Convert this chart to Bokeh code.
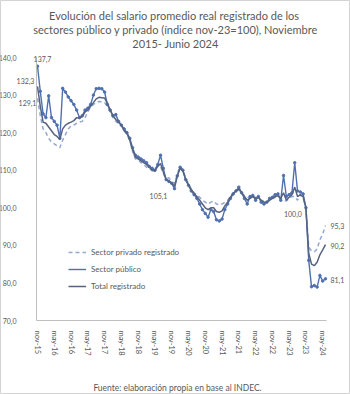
from bokeh.plotting import figure
from bokeh.models import (Range1d, FixedTicker, Label, Legend, LegendItem)
from bokeh.embed import file_html
from bokeh.resources import INLINE

# ---------------- data ----------------
tick_labels = ["nov-15", "may-16", "nov-16", "may-17", "nov-17", "may-18",
               "nov-18", "may-19", "nov-19", "may-20", "nov-20", "may-21",
               "nov-21", "may-22", "nov-22", "may-23", "nov-23", "may-24"]
y_ticks = [70, 80, 90, 100, 110, 120, 130, 140]
y_tick_labels = ["70,0", "80,0", "90,0", "100,0", "110,0", "120,0", "130,0", "140,0"]

# monthly index nov-15 ... jun-24 (nov-23 = 100)
publico = [137.7, 131.0, 125.0, 124.0, 129.8, 124.0, 123.0, 122.0, 118.5, 131.8,
           130.8, 129.5, 128.5, 127.5, 126.0, 124.0, 124.5, 126.0, 126.5, 127.5,
           130.0, 131.7, 131.8, 131.7, 130.8, 127.5, 126.0, 124.5, 124.8, 123.0,
           122.0, 121.0, 120.0, 118.5, 116.0, 114.0, 113.5, 113.0, 112.5, 112.0,
           111.0, 110.5, 110.0, 111.5, 114.0, 110.5, 107.5, 107.0, 106.5, 105.1,
           108.5, 110.8, 110.0, 107.5, 106.0, 104.5, 103.5, 102.5, 101.0, 99.5,
           98.5, 97.5, 99.5, 99.0, 96.8, 96.5, 97.0, 99.5, 101.0, 102.5,
           103.7, 104.5, 105.5, 104.0, 102.5, 101.0, 103.0, 103.3, 102.0, 103.0,
           101.5, 101.0, 101.5, 102.5, 102.8, 103.5, 103.7, 102.0, 108.6, 103.0,
           103.5, 104.0, 112.0, 104.5, 104.2, 103.7, 100.0, 86.0, 79.0, 79.3,
           78.9, 82.0, 80.5, 81.1]
total = [132.3, 127.0, 122.8, 122.5, 121.5, 120.5, 119.5, 119.0, 118.2, 121.0,
         122.0, 122.5, 122.8, 123.2, 124.0, 123.8, 124.3, 125.5, 126.0, 127.0,
         128.0, 129.0, 129.4, 129.3, 129.2, 127.8, 126.0, 124.5, 123.5, 122.8,
         122.0, 120.5, 119.8, 118.0, 115.5, 113.5, 113.0, 112.5, 112.0, 111.5,
         110.8, 110.0, 109.8, 111.0, 111.8, 109.5, 107.5, 107.2, 106.5, 105.8,
         108.5, 110.5, 109.8, 107.5, 106.0, 104.8, 103.8, 103.0, 102.0, 101.0,
         100.0, 99.5, 100.0, 100.0, 99.0, 98.8, 99.2, 100.5, 101.5, 102.8,
         103.8, 104.5, 105.0, 104.0, 103.0, 102.0, 102.5, 103.0, 102.5, 102.8,
         102.0, 101.5, 101.5, 102.0, 102.5, 103.0, 103.2, 102.5, 104.0, 102.0,
         102.8, 103.5, 105.5, 103.0, 103.5, 103.0, 100.0, 88.0, 85.0, 84.6,
         85.5, 87.5, 88.8, 90.2]
privado = [129.1, 124.5, 121.0, 120.0, 118.5, 117.5, 117.0, 116.5, 116.0, 118.0,
           119.5, 121.0, 121.8, 122.0, 122.5, 122.8, 123.0, 124.0, 125.5, 126.8,
           127.5, 128.0, 128.3, 128.2, 128.0, 127.0, 125.5, 124.0, 123.0, 122.4,
           122.0, 120.5, 119.5, 118.0, 115.0, 113.0, 112.8, 112.0, 111.5, 110.8,
           110.5, 109.8, 110.5, 111.2, 111.0, 109.0, 107.8, 108.0, 107.0, 106.5,
           109.0, 111.0, 110.2, 108.0, 106.5, 105.0, 104.0, 103.5, 102.8, 102.0,
           101.5, 101.0, 101.5, 101.8, 101.0, 100.8, 101.0, 101.5, 102.0, 103.0,
           104.0, 104.5, 104.8, 104.0, 103.2, 102.8, 102.5, 103.0, 102.8, 102.5,
           102.0, 101.8, 101.5, 102.0, 102.3, 102.8, 103.0, 102.5, 102.0, 101.8,
           102.5, 103.0, 103.0, 102.0, 103.5, 102.5, 100.0, 89.5, 88.5, 88.3,
           89.0, 91.5, 93.0, 95.3]

x = list(range(len(total)))

# ---------------- layout helpers (pixel -> data) ----------------
W, H = 350, 394
X0, SX = 37.0, 2.796      # pixel of month 0, pixels per month
Y0, SY = 320.0, 3.757     # pixel of value 70, pixels per unit


def dx(px):
    return (px - X0) / SX


def dy(py):
    return 70 + (Y0 - py) / SY


C_PRIV = "#93a8d0"
C_PUB = "#4f70b0"
C_TOT = "#56637f"
TXT = "#595959"
FONT = "Lato"
NUM_SIZE = "7px"

p = figure(width=W, height=H, output_backend="svg", toolbar_location=None,
           x_range=Range1d(dx(0), dx(W)), y_range=Range1d(dy(H), dy(0)),
           min_border=0)
p.outline_line_color = "#d4d4d4"
p.grid.grid_line_color = None
p.background_fill_color = "white"
p.border_fill_color = "white"

for ax in (p.xaxis[0], p.yaxis[0]):
    ax.axis_line_color = "#bfbfbf"
    ax.major_tick_line_color = None
    ax.minor_tick_line_color = None
    ax.major_label_text_color = TXT
    ax.major_label_text_font = FONT

p.yaxis.ticker = FixedTicker(ticks=y_ticks)
p.yaxis.major_label_overrides = {t: l for t, l in zip(y_ticks, y_tick_labels)}
p.yaxis.major_label_text_font_size = NUM_SIZE
p.yaxis.major_label_standoff = 14
p.yaxis.fixed_location = dx(36)
p.yaxis.bounds = (70, 140)

x_ticks = [i * 6 for i in range(len(tick_labels))]
p.xaxis.ticker = FixedTicker(ticks=x_ticks)
p.xaxis.major_label_overrides = {t: l for t, l in zip(x_ticks, tick_labels)}
p.xaxis.major_label_orientation = "vertical"
p.xaxis.major_label_text_font_size = "7.5px"
p.xaxis.major_label_standoff = 4
p.xaxis.fixed_location = 70
p.xaxis.bounds = (dx(36), dx(326))

r_priv = p.line(x, privado, line_color=C_PRIV, line_width=1.5, line_dash="4 3")
r_pub = p.line(x, publico, line_color=C_PUB, line_width=1.4)
r_pubm = p.scatter(x, publico, marker="circle", size=2.5, line_color=C_PUB,
                   fill_color=C_PUB)
r_tot = p.line(x, total, line_color=C_TOT, line_width=1.5)

legend = Legend(items=[
    LegendItem(label="Sector privado registrado", renderers=[r_priv]),
    LegendItem(label="Sector público", renderers=[r_pub]),
    LegendItem(label="Total registrado", renderers=[r_tot]),
], location=(68, H - 292))
legend.background_fill_alpha = 0
legend.border_line_color = None
legend.label_text_font = FONT
legend.label_text_font_size = "8px"
legend.label_text_color = TXT
legend.glyph_width = 18
legend.glyph_height = 12
legend.label_height = 12
legend.spacing = 5
legend.padding = 0
legend.margin = 0
p.add_layout(legend, "center")


# data labels
def fmt(v):
    return f"{v:.1f}".replace(".", ",")


def dlabel(xi, yi, ox, oy, align="center"):
    p.add_layout(Label(x=xi, y=yi, text=fmt(yi), x_offset=ox, y_offset=oy,
                       text_font=FONT, text_font_size=NUM_SIZE, text_color=TXT,
                       text_align=align, text_baseline="middle"))


last = len(total) - 1
dlabel(0, publico[0], 5, 7)
dlabel(0, total[0], -12, 5)
dlabel(0, privado[0], -10, -5)
dlabel(49, publico[49], -16, -7)
dlabel(96, total[96], -13, -6)
dlabel(last, privado[last], 5, -1, "left")
dlabel(last, total[last], 5, -1, "left")
dlabel(last, publico[last], 5, -1, "left")

# titles / source
title_lines = ["Evolución del salario promedio real  registrado de los",
               "sectores público y privado (índice nov-23=100), Noviembre",
               "2015- Junio 2024"]
for i, t in enumerate(title_lines):
    p.add_layout(Label(x=dx(175), y=dy(15 + 14 * i), text=t, text_font=FONT,
                       text_font_size="11px", text_color=TXT,
                       text_align="center", text_baseline="middle"))
p.add_layout(Label(x=dx(177), y=dy(387),
                   text="Fuente: elaboración propia en base al INDEC.",
                   text_font=FONT, text_font_size="8.5px", text_color=TXT,
                   text_align="center", text_baseline="middle"))

open("out.html", "w").write(file_html(p, INLINE))
